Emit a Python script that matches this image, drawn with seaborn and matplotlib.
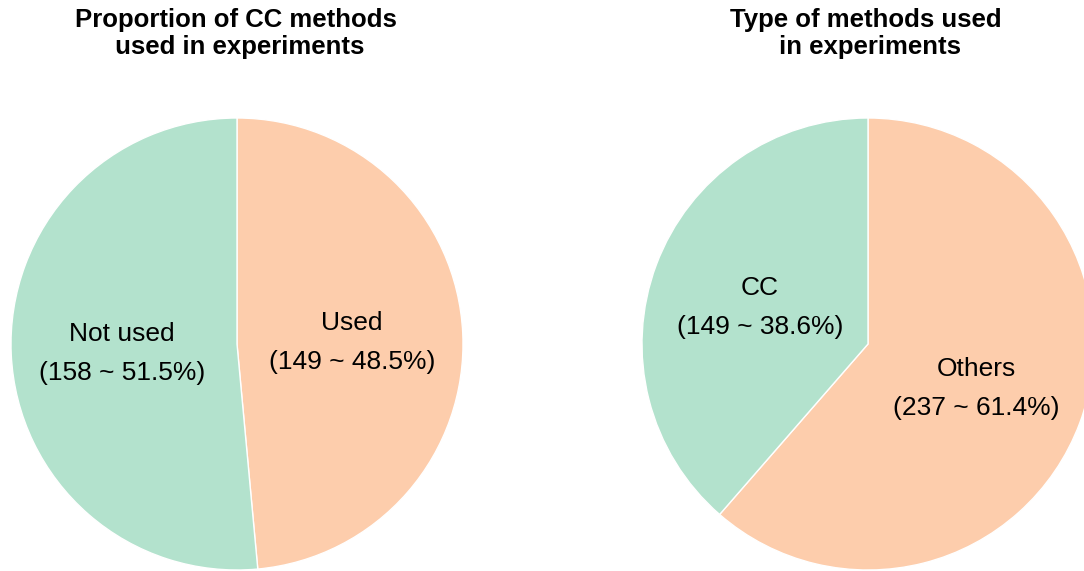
import matplotlib
matplotlib.use("Agg")
import matplotlib.pyplot as plt
import seaborn as sns

# Data
left_title = "Proportion of CC methods\n used in experiments"
left_labels = ["Used", "Not used"]
left_values = [149, 158]

right_title = "Type of methods used\n in experiments"
right_labels = ["Others", "CC"]
right_values = [237, 149]

sns.set_theme(style="white")
plt.rcParams['font.family'] = ['Liberation Sans', 'DejaVu Sans']

pal = sns.color_palette("Pastel2")
orange, green = pal[1], pal[0]

fig = plt.figure(figsize=(10.84, 5.71), dpi=100)

W, H = 1084, 571
r = 226

def make_ax(cx, cy):
    return fig.add_axes([(cx - r) / W, (H - cy - r) / H, 2 * r / W, 2 * r / H])

def draw(ax, labels, values):
    total = sum(values)
    lab = [f"{l}\n({v} ~ {v / total * 100:.1f}%)" for l, v in zip(labels, values)]
    wedges, texts = ax.pie(values, labels=lab, colors=[orange, green], startangle=90,
           counterclock=False, labeldistance=0.51, radius=1,
           wedgeprops=dict(edgecolor="white", linewidth=1),
           textprops=dict(fontsize=19, ha="center", va="center", linespacing=1.82, color="black"))
    for t in texts:
        x, y = t.get_position()
        t.set_position((x, y - 4 / r))
    ax.set_xlim(-1, 1)
    ax.set_ylim(-1, 1)
    ax.set_aspect("equal")
    ax.axis("off")

ax1 = make_ax(237, 344)
draw(ax1, left_labels, left_values)
ax2 = make_ax(868, 344)
draw(ax2, right_labels, right_values)

fig.text(236 / W, 1 - 33.5 / H, left_title, ha="center", va="center",
         fontsize=18.5, fontweight="bold", linespacing=1.2, color="black")
fig.text(866 / W, 1 - 33.5 / H, right_title, ha="center", va="center",
         fontsize=18.5, fontweight="bold", linespacing=1.2, color="black")

fig.savefig("out.png", dpi=100)
